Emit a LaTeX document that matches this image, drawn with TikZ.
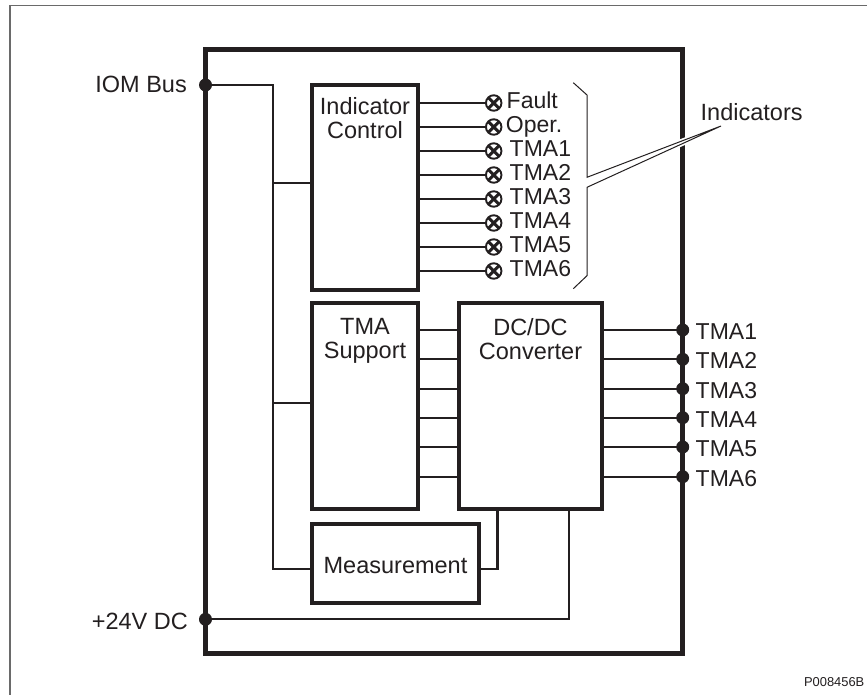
\documentclass[tikz,border=0pt]{standalone}
\usepackage{fontspec}
\setmainfont{Liberation Sans}
\usepackage{tikz}
\usepackage{xcolor}
\usetikzlibrary{positioning}
\definecolor{Ink}{HTML}{231F20}
\definecolor{Sheet}{HTML}{6A6A6A}
\tikzset{
  unit/.style={draw=Ink,line width=5.4pt,outer sep=0pt,inner sep=0pt,miter limit=10},
  block/.style={draw=Ink,line width=3.6pt,outer sep=0pt,inner sep=0pt},
  caption/.style={align=center,inner sep=0pt,text=Ink,font=\fontsize{23.5}{24}\selectfont},
  tag/.style={inner sep=0pt,text=Ink,font=\fontsize{23.5}{24}\selectfont},
  smalltag/.style={tag,font=\fontsize{23}{24}\selectfont},
  wire/.style={draw=Ink,line width=2.2pt},
  port/.style={circle,fill=Ink,minimum size=13pt,inner sep=0pt,outer sep=0pt},
  lamp/.style={circle,draw=Ink,fill=white,line width=1.9pt,minimum size=15.5pt,inner sep=0pt,outer sep=0pt,
    path picture={\draw[Ink,line width=3pt,shorten >=3.2pt,shorten <=3.2pt]
      (path picture bounding box.north west) -- (path picture bounding box.south east);
      \draw[Ink,line width=3pt,shorten >=3.2pt,shorten <=3.2pt]
      (path picture bounding box.south west) -- (path picture bounding box.north east);}},
  leader/.style={draw=Ink,line width=1pt},
  halo/.style={draw=white,line width=4.5pt}
}

\begin{document}
\begin{tikzpicture}[x=1pt,y=-1pt]
  \useasboundingbox (0,0) rectangle (867,695);
  \fill[white] (0,0) rectangle (867,695);
  \draw[Sheet,line width=1.4pt] (867,5.7) -| (9.8,695);

  \node[unit,minimum width=477.2pt,minimum height=604.2pt] (unit) at (444.1,351.6) {};
  \node[block,minimum width=106pt,minimum height=205pt] (indicator) at (365,187.5) {};
  \node[block,minimum width=106pt,minimum height=206pt,below=13pt of indicator] (support) {};
  \node[block,minimum width=143pt,minimum height=206pt,right=41pt of support] (dcdc) {};
  \node[block,minimum width=167pt,minimum height=79pt,below right=15pt and 0pt of support.south west] (measure) {};

  \node[caption,below=12.7pt of indicator.north] (indicatortext) {Indicator\\Control};
  \node[caption,below=14.7pt of support.north] (supporttext) {TMA\\Support};
  \node[caption,below=15.2pt of dcdc.north] (dcdctext) {DC/DC\\Converter};
  \node[caption,yshift=-2pt] (measuretext) at (measure.center) {Measurement};

  % left side
  \node[port] (iom) at (205.5,85) {};
  \node[port] (supply) at (205.5,619.3) {};
  \node[tag,anchor=base east] (iomtext) at (187,93) {IOM Bus};
  \node[tag,anchor=base east] (supplytext) at (188,629.3) {+24V DC};
  \coordinate (busend) at (272.7,569);
  \coordinate (tapa) at (272.7,182.7);
  \coordinate (tapb) at (272.7,403.3);
  \draw[wire] (iom.center) -| (busend) -- (measure.west |- busend);
  \draw[wire] (tapa) -- (indicator.west |- tapa);
  \draw[wire] (tapb) -- (support.west |- tapb);
  \draw[wire] (measure.east |- busend) -| ([xshift=18.5pt]measure.east |- dcdc.south);
  \coordinate (supplyend) at (569.3,619.3);
  \draw[wire] (supply.center) -- (supplyend) -- (supplyend |- dcdc.south);

  % indicators
  \foreach \i/\y/\x/\txt in {1/103/506.5/Fault,2/127/505.7/Oper.,3/151/509.5/TMA1,4/175/509.5/TMA2,
      5/199/509.5/TMA3,6/223/509.5/TMA4,7/247/509.5/TMA5,8/271/509.5/TMA6} {
    \node[lamp] (lamp\i) at (493.7,\y) {};
    \node[smalltag,anchor=base west] (lamptext\i) at (\x,\y+5.7) {\txt};
    \draw[wire] (indicator.east |- lamp\i) -- (lamp\i);
  }

  % TMA outputs
  \foreach \i/\y in {1/330,2/359.3,3/388.7,4/417.7,5/447,6/476.7} {
    \node[port] (out\i) at (682.7,\y) {};
    \node[smalltag,anchor=base west] (outtext\i) at (695.5,\y+9.5) {TMA\i};
    \draw[wire] (support.east |- out\i) -- (dcdc.west |- out\i);
    \draw[wire] (dcdc.east |- out\i) -- (out\i.center);
  }

  % brace and its label
  \node[tag,anchor=base west] (indicatorstext) at (700.5,120.7) {Indicators};
  \coordinate (tip) at (721,126);
  \coordinate (bracetop) at (587,177.3);
  \coordinate (bracebot) at (587,187.3);
  \draw[halo] (bracetop) -- (tip) -- (bracebot);
  \draw[leader] (573.3,82.7) -- (587,95) -- (bracetop) -- (tip) -- (bracebot) -- (587,275.7) -- (573.3,288.7);

  \node[anchor=base east,inner sep=0pt,text=Ink,font=\fontsize{12.9}{14}\selectfont] (code) at (864.5,686.5) {P008456B};
\end{tikzpicture}
\end{document}
